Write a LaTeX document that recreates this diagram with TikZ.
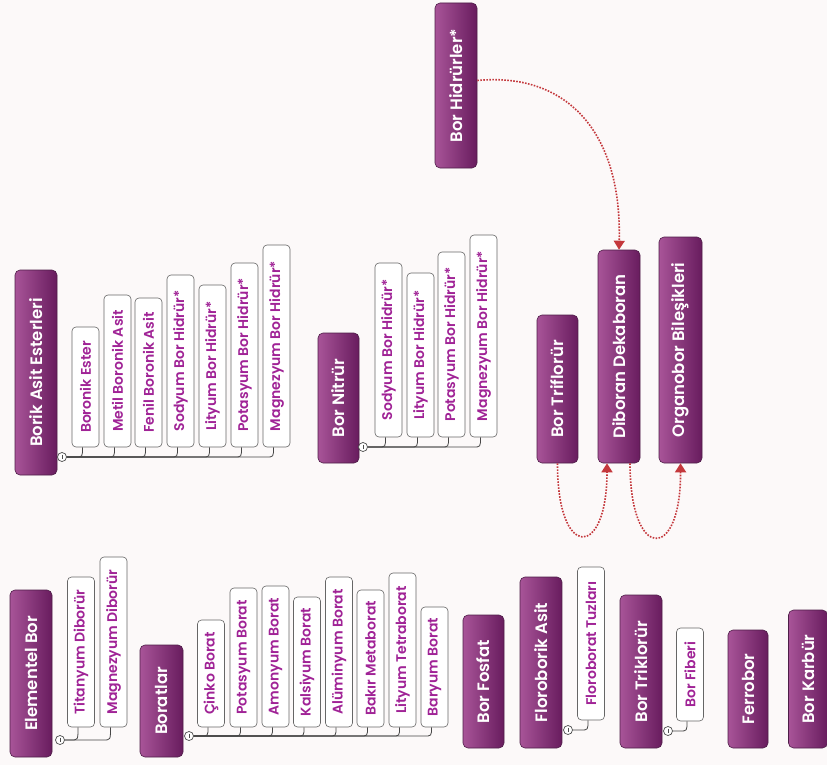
\documentclass[tikz,border=0pt]{standalone}
\usepackage{fontspec}
\setmainfont{Poppins}[BoldFont={* SemiBold}]
\usetikzlibrary{arrows.meta,calc}
\definecolor{bg}{RGB}{252,249,249}
\definecolor{plight}{RGB}{168,84,152}
\definecolor{pdark}{RGB}{104,28,94}
\definecolor{pborder}{RGB}{78,30,72}
\definecolor{wtext}{RGB}{160,35,150}
\definecolor{arrred}{RGB}{196,56,60}
\tikzset{
 pbox/.style={draw=pborder, line width=0.6pt, rounded corners=5pt, left color=plight, right color=pdark, inner sep=0pt, text=white, font=\fontsize{16.5}{19}\selectfont\bfseries},
 wbox/.style={draw=gray!80!black, line width=0.6pt, fill=white, rounded corners=4pt, inner sep=0pt, minimum width=27pt, text=wtext, font=\fontsize{14}{16}\selectfont\bfseries},
 knob/.style={circle, draw=gray!60!black, fill=white, line width=0.7pt, minimum size=9pt, inner sep=0pt},
 knobbar/.style={draw=gray!60!black, line width=0.7pt},
 conn/.style={draw=gray!55!black, line width=0.8pt},
 redarr/.style={draw=arrred, line width=1.6pt, dash pattern=on 1.6pt off 1.4pt, -{Triangle[width=11pt,length=9pt]}}
}
\begin{document}
\begin{tikzpicture}[x=1pt,y=-1pt]
\fill[bg] (0,0) rectangle (827,765);
\useasboundingbox (0,0) rectangle (827,765);

% purple main boxes
\node[pbox, minimum width=42pt, minimum height=205pt] (borik) at (36,372.5) {\rotatebox{90}{Borik Asit Esterleri}};
\node[pbox, minimum width=41pt, minimum height=130pt] (nitrur) at (338.5,398) {\rotatebox{90}{Bor Nitrür}};
\node[pbox, minimum width=42pt, minimum height=167pt] (elem) at (31,673.5) {\rotatebox{90}{Elementel Bor}};
\node[pbox, minimum width=43pt, minimum height=112pt] (boratlar) at (161.5,701) {\rotatebox{90}{Boratlar}};
\node[pbox, minimum width=41pt, minimum height=133pt] (fosfat) at (483.5,681.5) {\rotatebox{90}{Bor Fosfat}};
\node[pbox, minimum width=42pt, minimum height=171pt] (floro) at (541,662.5) {\rotatebox{90}{Floroborik Asit}};
\node[pbox, minimum width=42pt, minimum height=153pt] (trik) at (641,671.5) {\rotatebox{90}{Bor Triklorür}};
\node[pbox, minimum width=40pt, minimum height=118pt] (ferro) at (748,689) {\rotatebox{90}{Ferrobor}};
\node[pbox, minimum width=39pt, minimum height=138pt] (karbur) at (808,679) {\rotatebox{90}{Bor Karbür}};
\node[pbox, minimum width=42pt, minimum height=165pt] (hidr) at (456,85.5) {\rotatebox{90}{Bor Hidrürler*}};
\node[pbox, minimum width=41pt, minimum height=148pt] (trifl) at (557.5,389) {\rotatebox{90}{Bor Triflorür}};
\node[pbox, minimum width=42pt, minimum height=213pt] (diboran) at (619,356.5) {\rotatebox{90}{Diboran Dekaboran}};
\node[pbox, minimum width=43pt, minimum height=226pt] (organo) at (680.5,350) {\rotatebox{90}{Organobor Bileşikleri}};

% white child boxes
\node[wbox, minimum height=120pt] (b1) at (85.5,387) {\rotatebox{90}{Boronik Ester}};
\node[wbox, minimum height=152pt] (b2) at (117.5,371) {\rotatebox{90}{Metil Boronik Asit}};
\node[wbox, minimum height=149pt] (b3) at (148.5,372.5) {\rotatebox{90}{Fenil Boronik Asit}};
\node[wbox, minimum height=172pt] (b4) at (180.5,361) {\rotatebox{90}{Sodyum Bor Hidrür*}};
\node[wbox, minimum height=162pt] (b5) at (212.5,366) {\rotatebox{90}{Lityum Bor Hidrür*}};
\node[wbox, minimum height=184pt] (b6) at (244.5,355) {\rotatebox{90}{Potasyum Bor Hidrür*}};
\node[wbox, minimum height=202pt] (b7) at (276.5,346) {\rotatebox{90}{Magnezyum Bor Hidrür*}};

\node[wbox, minimum height=174pt] (n1) at (388.5,350) {\rotatebox{90}{Sodyum Bor Hidrür*}};
\node[wbox, minimum height=164pt] (n2) at (420.5,355) {\rotatebox{90}{Lityum Bor Hidrür*}};
\node[wbox, minimum height=185pt] (n3) at (451.5,344.5) {\rotatebox{90}{Potasyum Bor Hidrür*}};
\node[wbox, minimum height=202pt] (n4) at (483.5,336) {\rotatebox{90}{Magnezyum Bor Hidrür*}};

\node[wbox, minimum height=150pt] (e1) at (81,652) {\rotatebox{90}{Titanyum Diborür}};
\node[wbox, minimum height=170pt] (e2) at (113.5,642) {\rotatebox{90}{Magnezyum Diborür}};

\node[wbox, minimum height=107pt] (r1) at (211,673.5) {\rotatebox{90}{Çinko Borat}};
\node[wbox, minimum height=139pt] (r2) at (243.5,657.5) {\rotatebox{90}{Potasyum Borat}};
\node[wbox, minimum height=141pt] (r3) at (275.5,656.5) {\rotatebox{90}{Amonyum Borat}};
\node[wbox, minimum height=130pt] (r4) at (307,662) {\rotatebox{90}{Kalsiyum Borat}};
\node[wbox, minimum height=150pt] (r5) at (339,652) {\rotatebox{90}{Alüminyum Borat}};
\node[wbox, minimum height=137pt] (r6) at (370.5,658.5) {\rotatebox{90}{Bakır Metaborat}};
\node[wbox, minimum height=154pt] (r7) at (402.5,650) {\rotatebox{90}{Lityum Tetraborat}};
\node[wbox, minimum height=120pt] (r8) at (434.5,667) {\rotatebox{90}{Baryum Borat}};

\node[wbox, minimum height=153pt] (f1) at (591,643.5) {\rotatebox{90}{Floroborat Tuzları}};
\node[wbox, minimum height=93pt] (t1) at (690,674.5) {\rotatebox{90}{Bor Fiberi}};

% knobs
\node[knob] (cb) at (62,457) {};
\node[knob] (cn) at (363,447) {};
\node[knob] (ce) at (60,740) {};
\node[knob] (cr) at (189,736) {};
\node[knob] (cf) at (568,730) {};
\node[knob] (ct) at (668,731) {};

% connectors
\foreach \c in {b1,b2,b3,b4,b5,b6,b7}
  \draw[conn] (cb.east) -- ($(\c.south |- cb)+(-10,0)$) .. controls ($(\c.south |- cb)+(-3,0)$) .. ($(\c.south)+(-3,0)$);
\foreach \c in {n1,n2,n3,n4}
  \draw[conn] (cn.east) -- ($(\c.south |- cn)+(-10,0)$) .. controls ($(\c.south |- cn)+(-3,0)$) .. ($(\c.south)+(-3,0)$);
\foreach \c in {e1,e2}
  \draw[conn] (ce.east) -- ($(\c.south |- ce)+(-10,0)$) .. controls ($(\c.south |- ce)+(-3,0)$) .. ($(\c.south)+(-3,0)$);
\foreach \c in {r1,r2,r3,r4,r5,r6,r7,r8}
  \draw[conn] (cr.east) -- ($(\c.south |- cr)+(-10,0)$) .. controls ($(\c.south |- cr)+(-3,0)$) .. ($(\c.south)+(-3,0)$);
\draw[conn] (cf.east) -- ($(f1.south |- cf)+(-10,0)$) .. controls ($(f1.south |- cf)+(-3,0)$) .. ($(f1.south)+(-3,0)$);
\draw[conn] (ct.east) -- ($(t1.south |- ct)+(-10,0)$) .. controls ($(t1.south |- ct)+(-3,0)$) .. ($(t1.south)+(-3,0)$);

\foreach \k in {cb,cn,ce,cr,cf,ct}
  \draw[knobbar] ($(\k.north)+(0,2.5)$) -- ($(\k.south)+(0,-2.5)$);

% red dotted arrows
\draw[redarr] ($(hidr.east)+(0,-5)$) .. controls (565,72) and (622,130) .. (diboran.north);
\draw[redarr] (trifl.south) .. controls (557,560) and (607,560) .. ($(diboran.south)+(-12,0)$);
\draw[redarr] ($(diboran.south)+(11,0)$) .. controls (630,562) and (681,562) .. (organo.south);
\end{tikzpicture}
\end{document}
